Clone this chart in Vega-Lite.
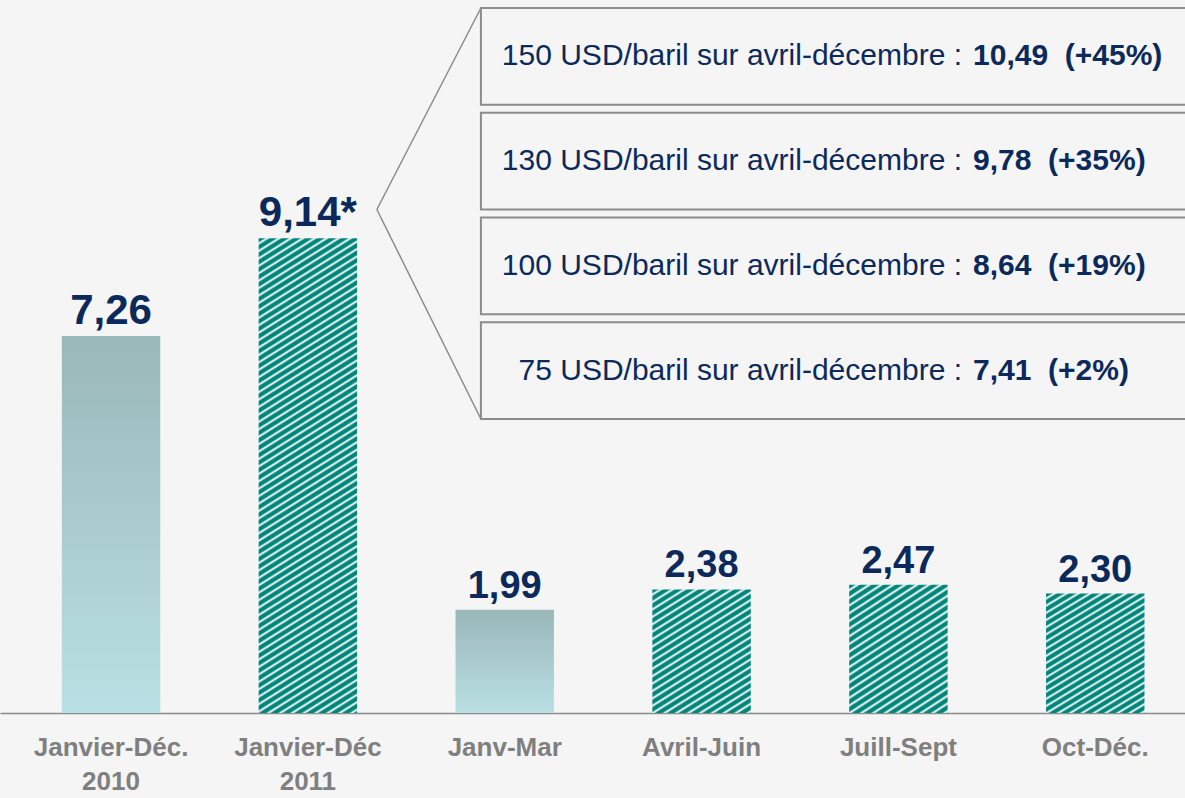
{
  "$schema": "https://vega.github.io/schema/vega-lite/v6.json",
  "width": 1185,
  "height": 713,
  "autosize": {"type": "none"},
  "padding": {"left": 0, "top": 0, "right": 0, "bottom": 85},
  "background": "#f5f5f5",
  "config": {
    "view": {"stroke": null},
    "font": "Liberation Sans",
    "axisX": {"title": null, "labelAngle": 0, "ticks": false, "tickSize": 0, "grid": false, "domainColor": "#8c8c8c", "domainWidth": 1.5, "labelFont": "Liberation Sans", "labelFontSize": 26, "labelFontWeight": "bold", "labelColor": "#7f7f7f", "labelPadding": 42, "labelBaseline": "alphabetic", "labelLineHeight": 34, "labelOverlap": false, "labelBound": false}
  },
  "resolve": {"scale": {"y": "independent"}},
  "layer": [
    {
      "data": {
        "values": [
          {"periode": "Janvier-Déc.\n2010", "valeur": 7.26, "nature": "réalisé"},
          {"periode": "Janvier-Déc\n2011", "valeur": 9.14, "nature": "prévision annuelle", "renvoi": "*"},
          {"periode": "Janv-Mar", "valeur": 1.99, "nature": "réalisé"},
          {"periode": "Avril-Juin", "valeur": 2.38, "nature": "prévision trimestrielle"},
          {"periode": "Juill-Sept", "valeur": 2.47, "nature": "prévision trimestrielle"},
          {"periode": "Oct-Déc.", "valeur": 2.30, "nature": "prévision trimestrielle"}
        ]
      },
      "layer": [
        {
          "transform": [{"filter": "datum.nature == 'réalisé'"}],
          "mark": {
            "type": "bar",
            "fill": {"gradient": "linear", "x1": 0, "y1": 0, "x2": 0, "y2": 1,
              "stops": [{"offset": 0, "color": "#9ab7b9"}, {"offset": 1, "color": "#b9e0e4"}]}
          },
          "encoding": {
            "x": {"field": "periode", "type": "nominal", "title": null,
              "scale": {"domain": ["Janvier-Déc.\n2010", "Janvier-Déc\n2011", "Janv-Mar", "Avril-Juin", "Juill-Sept", "Oct-Déc."], "paddingInner": 0.5, "paddingOuter": 0.26, "align": 0.604},
              "axis": {"labelExpr": "split(datum.label, '\\n')"}},
            "y": {"field": "valeur", "type": "quantitative", "scale": {"domain": [0, 13.73], "nice": false, "zero": true}, "axis": null}
          }
        },
        {
          "transform": [{"filter": "datum.nature == 'prévision annuelle'"}],
          "mark": {
            "type": "bar",
            "fill": {"gradient": "linear", "x1": 0, "y1": 0, "x2": 0.1995, "y2": 1.5395,
              "stops": [
{"offset":0,"color":"#00857a"},{"offset":0.004,"color":"#00857a"},{"offset":0.007,"color":"#fff"},
{"offset":0.01,"color":"#00857a"},{"offset":0.014,"color":"#00857a"},{"offset":0.017,"color":"#fff"},
{"offset":0.02,"color":"#00857a"},{"offset":0.024,"color":"#00857a"},{"offset":0.027,"color":"#fff"},
{"offset":0.03,"color":"#00857a"},{"offset":0.034,"color":"#00857a"},{"offset":0.037,"color":"#fff"},
{"offset":0.04,"color":"#00857a"},{"offset":0.044,"color":"#00857a"},{"offset":0.047,"color":"#fff"},
{"offset":0.05,"color":"#00857a"},{"offset":0.054,"color":"#00857a"},{"offset":0.057,"color":"#fff"},
{"offset":0.06,"color":"#00857a"},{"offset":0.064,"color":"#00857a"},{"offset":0.067,"color":"#fff"},
{"offset":0.07,"color":"#00857a"},{"offset":0.074,"color":"#00857a"},{"offset":0.077,"color":"#fff"},
{"offset":0.08,"color":"#00857a"},{"offset":0.084,"color":"#00857a"},{"offset":0.087,"color":"#fff"},
{"offset":0.09,"color":"#00857a"},{"offset":0.094,"color":"#00857a"},{"offset":0.097,"color":"#fff"},
{"offset":0.10,"color":"#00857a"},{"offset":0.104,"color":"#00857a"},{"offset":0.107,"color":"#fff"},
{"offset":0.11,"color":"#00857a"},{"offset":0.114,"color":"#00857a"},{"offset":0.117,"color":"#fff"},
{"offset":0.12,"color":"#00857a"},{"offset":0.124,"color":"#00857a"},{"offset":0.127,"color":"#fff"},
{"offset":0.13,"color":"#00857a"},{"offset":0.134,"color":"#00857a"},{"offset":0.137,"color":"#fff"},
{"offset":0.14,"color":"#00857a"},{"offset":0.144,"color":"#00857a"},{"offset":0.147,"color":"#fff"},
{"offset":0.15,"color":"#00857a"},{"offset":0.154,"color":"#00857a"},{"offset":0.157,"color":"#fff"},
{"offset":0.16,"color":"#00857a"},{"offset":0.164,"color":"#00857a"},{"offset":0.167,"color":"#fff"},
{"offset":0.17,"color":"#00857a"},{"offset":0.174,"color":"#00857a"},{"offset":0.177,"color":"#fff"},
{"offset":0.18,"color":"#00857a"},{"offset":0.184,"color":"#00857a"},{"offset":0.187,"color":"#fff"},
{"offset":0.19,"color":"#00857a"},{"offset":0.194,"color":"#00857a"},{"offset":0.197,"color":"#fff"},
{"offset":0.20,"color":"#00857a"},{"offset":0.204,"color":"#00857a"},{"offset":0.207,"color":"#fff"},
{"offset":0.21,"color":"#00857a"},{"offset":0.214,"color":"#00857a"},{"offset":0.217,"color":"#fff"},
{"offset":0.22,"color":"#00857a"},{"offset":0.224,"color":"#00857a"},{"offset":0.227,"color":"#fff"},
{"offset":0.23,"color":"#00857a"},{"offset":0.234,"color":"#00857a"},{"offset":0.237,"color":"#fff"},
{"offset":0.24,"color":"#00857a"},{"offset":0.244,"color":"#00857a"},{"offset":0.247,"color":"#fff"},
{"offset":0.25,"color":"#00857a"},{"offset":0.254,"color":"#00857a"},{"offset":0.257,"color":"#fff"},
{"offset":0.26,"color":"#00857a"},{"offset":0.264,"color":"#00857a"},{"offset":0.267,"color":"#fff"},
{"offset":0.27,"color":"#00857a"},{"offset":0.274,"color":"#00857a"},{"offset":0.277,"color":"#fff"},
{"offset":0.28,"color":"#00857a"},{"offset":0.284,"color":"#00857a"},{"offset":0.287,"color":"#fff"},
{"offset":0.29,"color":"#00857a"},{"offset":0.294,"color":"#00857a"},{"offset":0.297,"color":"#fff"},
{"offset":0.30,"color":"#00857a"},{"offset":0.304,"color":"#00857a"},{"offset":0.307,"color":"#fff"},
{"offset":0.31,"color":"#00857a"},{"offset":0.314,"color":"#00857a"},{"offset":0.317,"color":"#fff"},
{"offset":0.32,"color":"#00857a"},{"offset":0.324,"color":"#00857a"},{"offset":0.327,"color":"#fff"},
{"offset":0.33,"color":"#00857a"},{"offset":0.334,"color":"#00857a"},{"offset":0.337,"color":"#fff"},
{"offset":0.34,"color":"#00857a"},{"offset":0.344,"color":"#00857a"},{"offset":0.347,"color":"#fff"},
{"offset":0.35,"color":"#00857a"},{"offset":0.354,"color":"#00857a"},{"offset":0.357,"color":"#fff"},
{"offset":0.36,"color":"#00857a"},{"offset":0.364,"color":"#00857a"},{"offset":0.367,"color":"#fff"},
{"offset":0.37,"color":"#00857a"},{"offset":0.374,"color":"#00857a"},{"offset":0.377,"color":"#fff"},
{"offset":0.38,"color":"#00857a"},{"offset":0.384,"color":"#00857a"},{"offset":0.387,"color":"#fff"},
{"offset":0.39,"color":"#00857a"},{"offset":0.394,"color":"#00857a"},{"offset":0.397,"color":"#fff"},
{"offset":0.40,"color":"#00857a"},{"offset":0.404,"color":"#00857a"},{"offset":0.407,"color":"#fff"},
{"offset":0.41,"color":"#00857a"},{"offset":0.414,"color":"#00857a"},{"offset":0.417,"color":"#fff"},
{"offset":0.42,"color":"#00857a"},{"offset":0.424,"color":"#00857a"},{"offset":0.427,"color":"#fff"},
{"offset":0.43,"color":"#00857a"},{"offset":0.434,"color":"#00857a"},{"offset":0.437,"color":"#fff"},
{"offset":0.44,"color":"#00857a"},{"offset":0.444,"color":"#00857a"},{"offset":0.447,"color":"#fff"},
{"offset":0.45,"color":"#00857a"},{"offset":0.454,"color":"#00857a"},{"offset":0.457,"color":"#fff"},
{"offset":0.46,"color":"#00857a"},{"offset":0.464,"color":"#00857a"},{"offset":0.467,"color":"#fff"},
{"offset":0.47,"color":"#00857a"},{"offset":0.474,"color":"#00857a"},{"offset":0.477,"color":"#fff"},
{"offset":0.48,"color":"#00857a"},{"offset":0.484,"color":"#00857a"},{"offset":0.487,"color":"#fff"},
{"offset":0.49,"color":"#00857a"},{"offset":0.494,"color":"#00857a"},{"offset":0.497,"color":"#fff"},
{"offset":0.50,"color":"#00857a"},{"offset":0.504,"color":"#00857a"},{"offset":0.507,"color":"#fff"},
{"offset":0.51,"color":"#00857a"},{"offset":0.514,"color":"#00857a"},{"offset":0.517,"color":"#fff"},
{"offset":0.52,"color":"#00857a"},{"offset":0.524,"color":"#00857a"},{"offset":0.527,"color":"#fff"},
{"offset":0.53,"color":"#00857a"},{"offset":0.534,"color":"#00857a"},{"offset":0.537,"color":"#fff"},
{"offset":0.54,"color":"#00857a"},{"offset":0.544,"color":"#00857a"},{"offset":0.547,"color":"#fff"},
{"offset":0.55,"color":"#00857a"},{"offset":0.554,"color":"#00857a"},{"offset":0.557,"color":"#fff"},
{"offset":0.56,"color":"#00857a"},{"offset":0.564,"color":"#00857a"},{"offset":0.567,"color":"#fff"},
{"offset":0.57,"color":"#00857a"},{"offset":0.574,"color":"#00857a"},{"offset":0.577,"color":"#fff"},
{"offset":0.58,"color":"#00857a"},{"offset":0.584,"color":"#00857a"},{"offset":0.587,"color":"#fff"},
{"offset":0.59,"color":"#00857a"},{"offset":0.594,"color":"#00857a"},{"offset":0.597,"color":"#fff"},
{"offset":0.60,"color":"#00857a"},{"offset":0.604,"color":"#00857a"},{"offset":0.607,"color":"#fff"},
{"offset":0.61,"color":"#00857a"},{"offset":0.614,"color":"#00857a"},{"offset":0.617,"color":"#fff"},
{"offset":0.62,"color":"#00857a"},{"offset":0.624,"color":"#00857a"},{"offset":0.627,"color":"#fff"},
{"offset":0.63,"color":"#00857a"},{"offset":0.634,"color":"#00857a"},{"offset":0.637,"color":"#fff"},
{"offset":0.64,"color":"#00857a"},{"offset":0.644,"color":"#00857a"},{"offset":0.647,"color":"#fff"},
{"offset":0.65,"color":"#00857a"},{"offset":0.654,"color":"#00857a"},{"offset":0.657,"color":"#fff"},
{"offset":0.66,"color":"#00857a"},{"offset":0.664,"color":"#00857a"},{"offset":0.667,"color":"#fff"},
{"offset":0.67,"color":"#00857a"},{"offset":0.674,"color":"#00857a"},{"offset":0.677,"color":"#fff"},
{"offset":0.68,"color":"#00857a"},{"offset":0.684,"color":"#00857a"},{"offset":0.687,"color":"#fff"},
{"offset":0.69,"color":"#00857a"},{"offset":0.694,"color":"#00857a"},{"offset":0.697,"color":"#fff"},
{"offset":0.70,"color":"#00857a"},{"offset":0.704,"color":"#00857a"},{"offset":0.707,"color":"#fff"},
{"offset":0.71,"color":"#00857a"},{"offset":0.714,"color":"#00857a"},{"offset":0.717,"color":"#fff"},
{"offset":0.72,"color":"#00857a"},{"offset":0.724,"color":"#00857a"},{"offset":0.727,"color":"#fff"},
{"offset":0.73,"color":"#00857a"}
              ]}
          },
          "encoding": {
            "x": {"field": "periode", "type": "nominal", "title": null},
            "y": {"field": "valeur", "type": "quantitative", "axis": null}
          }
        },
        {
          "transform": [{"filter": "datum.nature == 'prévision trimestrielle'"}],
          "mark": {
            "type": "bar",
            "fill": {"gradient": "linear", "x1": 0, "y1": 0, "x2": 2.390, "y2": 4.813,
              "stops": [
{"offset":0,"color":"#00857a"},{"offset":0.004,"color":"#00857a"},{"offset":0.007,"color":"#fff"},
{"offset":0.01,"color":"#00857a"},{"offset":0.014,"color":"#00857a"},{"offset":0.017,"color":"#fff"},
{"offset":0.02,"color":"#00857a"},{"offset":0.024,"color":"#00857a"},{"offset":0.027,"color":"#fff"},
{"offset":0.03,"color":"#00857a"},{"offset":0.034,"color":"#00857a"},{"offset":0.037,"color":"#fff"},
{"offset":0.04,"color":"#00857a"},{"offset":0.044,"color":"#00857a"},{"offset":0.047,"color":"#fff"},
{"offset":0.05,"color":"#00857a"},{"offset":0.054,"color":"#00857a"},{"offset":0.057,"color":"#fff"},
{"offset":0.06,"color":"#00857a"},{"offset":0.064,"color":"#00857a"},{"offset":0.067,"color":"#fff"},
{"offset":0.07,"color":"#00857a"},{"offset":0.074,"color":"#00857a"},{"offset":0.077,"color":"#fff"},
{"offset":0.08,"color":"#00857a"},{"offset":0.084,"color":"#00857a"},{"offset":0.087,"color":"#fff"},
{"offset":0.09,"color":"#00857a"},{"offset":0.094,"color":"#00857a"},{"offset":0.097,"color":"#fff"},
{"offset":0.10,"color":"#00857a"},{"offset":0.104,"color":"#00857a"},{"offset":0.107,"color":"#fff"},
{"offset":0.11,"color":"#00857a"},{"offset":0.114,"color":"#00857a"},{"offset":0.117,"color":"#fff"},
{"offset":0.12,"color":"#00857a"},{"offset":0.124,"color":"#00857a"},{"offset":0.127,"color":"#fff"},
{"offset":0.13,"color":"#00857a"},{"offset":0.134,"color":"#00857a"},{"offset":0.137,"color":"#fff"},
{"offset":0.14,"color":"#00857a"},{"offset":0.144,"color":"#00857a"},{"offset":0.147,"color":"#fff"},
{"offset":0.15,"color":"#00857a"},{"offset":0.154,"color":"#00857a"},{"offset":0.157,"color":"#fff"},
{"offset":0.16,"color":"#00857a"},{"offset":0.164,"color":"#00857a"},{"offset":0.167,"color":"#fff"},
{"offset":0.17,"color":"#00857a"},{"offset":0.174,"color":"#00857a"},{"offset":0.177,"color":"#fff"},
{"offset":0.18,"color":"#00857a"},{"offset":0.184,"color":"#00857a"},{"offset":0.187,"color":"#fff"},
{"offset":0.19,"color":"#00857a"},{"offset":0.194,"color":"#00857a"},{"offset":0.197,"color":"#fff"},
{"offset":0.20,"color":"#00857a"},{"offset":0.204,"color":"#00857a"},{"offset":0.207,"color":"#fff"},
{"offset":0.21,"color":"#00857a"},{"offset":0.214,"color":"#00857a"},{"offset":0.217,"color":"#fff"},
{"offset":0.22,"color":"#00857a"},{"offset":0.224,"color":"#00857a"},{"offset":0.227,"color":"#fff"},
{"offset":0.23,"color":"#00857a"},{"offset":0.234,"color":"#00857a"},{"offset":0.237,"color":"#fff"},
{"offset":0.24,"color":"#00857a"},{"offset":0.244,"color":"#00857a"},{"offset":0.247,"color":"#fff"},
{"offset":0.25,"color":"#00857a"},{"offset":0.254,"color":"#00857a"},{"offset":0.257,"color":"#fff"},
{"offset":0.26,"color":"#00857a"},{"offset":0.264,"color":"#00857a"},{"offset":0.267,"color":"#fff"},
{"offset":0.27,"color":"#00857a"}
              ]}
          },
          "encoding": {
            "x": {"field": "periode", "type": "nominal", "title": null},
            "y": {"field": "valeur", "type": "quantitative", "axis": null}
          }
        },
        {
          "transform": [{"calculate": "replace(format(datum.valeur, '.2f'), '.', ',') + (datum.renvoi ? datum.renvoi : '')", "as": "etiquette"}],
          "mark": {"type": "text", "baseline": "alphabetic", "dy": -12, "fontWeight": "bold", "font": "Liberation Sans", "color": "#0b2a5b"},
          "encoding": {
            "x": {"field": "periode", "type": "nominal", "title": null},
            "y": {"field": "valeur", "type": "quantitative", "axis": null},
            "text": {"field": "etiquette"},
            "size": {"condition": {"test": "datum.valeur > 5", "value": 42}, "value": 38}
          }
        }
      ]
    },
    {
      "data": {
        "values": [
          {"prix": 150, "libelle": "150 USD/baril sur avril-décembre :", "valeur": 10.49, "variation": "+45%"},
          {"prix": 130, "libelle": "130 USD/baril sur avril-décembre :", "valeur": 9.78, "variation": "+35%"},
          {"prix": 100, "libelle": "100 USD/baril sur avril-décembre :", "valeur": 8.64, "variation": "+19%"},
          {"prix": 75, "libelle": "75 USD/baril sur avril-décembre :", "valeur": 7.41, "variation": "+2%"}
        ]
      },
      "layer": [
        {
          "mark": {"type": "rect", "fill": "#f5f5f5", "stroke": "#8c8c8c", "strokeWidth": 2},
          "encoding": {
            "y": {"field": "prix", "type": "nominal", "axis": null,
              "scale": {"domain": [150, 130, 100, 75], "range": [8, 419], "paddingInner": 0.076, "paddingOuter": 0}},
            "x": {"datum": "Janv-Mar", "type": "nominal", "bandPosition": 0.258, "title": null},
            "x2": {"datum": "Oct-Déc.", "bandPosition": 1.5}
          }
        },
        {
          "transform": [{"filter": "datum.prix == 150"}],
          "mark": {"type": "rule", "color": "#8c8c8c", "strokeWidth": 1.5},
          "encoding": {
            "x": {"datum": "Janv-Mar", "type": "nominal", "bandPosition": 0.258, "title": null},
            "y": {"field": "prix", "type": "nominal", "bandPosition": 0, "axis": null},
            "x2": {"datum": "Janvier-Déc\n2011", "bandPosition": 1.201},
            "y2": {"datum": 130, "bandPosition": 1}
          }
        },
        {
          "transform": [{"filter": "datum.prix == 75"}],
          "mark": {"type": "rule", "color": "#8c8c8c", "strokeWidth": 1.5},
          "encoding": {
            "x": {"datum": "Janv-Mar", "type": "nominal", "bandPosition": 0.258, "title": null},
            "y": {"field": "prix", "type": "nominal", "bandPosition": 1, "axis": null},
            "x2": {"datum": "Janvier-Déc\n2011", "bandPosition": 1.201},
            "y2": {"datum": 130, "bandPosition": 1}
          }
        },
        {
          "mark": {"type": "text", "align": "right", "baseline": "middle", "font": "Liberation Sans", "fontSize": 30, "color": "#0b2a5b"},
          "encoding": {
            "y": {"field": "prix", "type": "nominal", "axis": null},
            "x": {"datum": "Juill-Sept", "type": "nominal", "bandPosition": 1.146, "title": null},
            "text": {"field": "libelle"}
          }
        },
        {
          "transform": [{"calculate": "replace(format(datum.valeur, '.2f'), '.', ',') + '\u00a0\u00a0(' + datum.variation + ')'", "as": "resultat"}],
          "mark": {"type": "text", "align": "left", "baseline": "middle", "font": "Liberation Sans", "fontSize": 30, "fontWeight": "bold", "color": "#0b2a5b"},
          "encoding": {
            "y": {"field": "prix", "type": "nominal", "axis": null},
            "x": {"datum": "Juill-Sept", "type": "nominal", "bandPosition": 1.258, "title": null},
            "text": {"field": "resultat"}
          }
        }
      ]
    }
  ]
}
